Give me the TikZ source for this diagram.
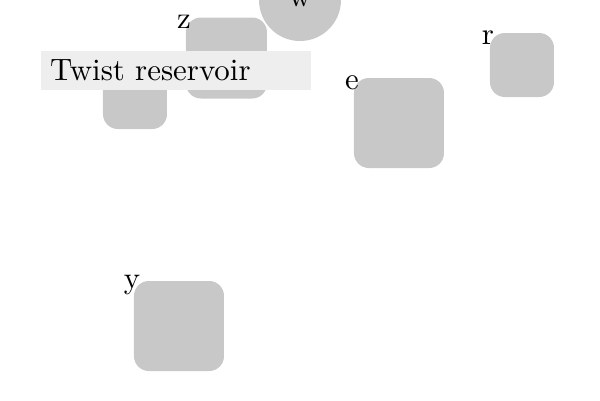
\documentclass[tikz,border=0pt]{standalone}
\newcommand\pxl{0.3367pt}
\definecolor{boxgray}{RGB}{200,200,200}
\definecolor{titlegray}{RGB}{238,238,238}
\tikzset{
  blk/.style={fill=boxgray, draw=none, rounded corners=5pt, inner sep=0pt,
              minimum width=#1*0.3367pt, minimum height=#1*0.3367pt},
  tag/.style={inner sep=0pt, anchor=center},
  ball/.style={circle, fill=boxgray, inner sep=0pt, minimum size=82*0.3367pt},
  titlebox/.style={fill=titlegray, inner xsep=3.2pt, inner ysep=3.1pt, text width=84.5pt, align=left, anchor=north west}
}
\begin{document}
\begin{tikzpicture}[x=\pxl, y=-\pxl, font=\fontsize{10.4}{12.5}\selectfont]
  \useasboundingbox (0,0) rectangle (600,400);
  % boxes
  \node[blk=64] (q) at (135,97) {};
  \node[blk=81] (z) at (226.5,58) {};
  \node[ball] (w) at (300,0) {w};
  \node[blk=90] (e) at (399,123) {};
  \node[blk=64] (r) at (522,65) {};
  \node[blk=90] (y) at (179,326) {};
  % labels
  \node[tag] (zl) at ([shift={(-1.5,5)}]z.north west) {z};
  \node[tag] (el) at ([shift={(-1.5,5)}]e.north west) {e};
  \node[tag] (rl) at ([shift={(-1.5,5)}]r.north west) {r};
  \node[tag] (yl) at ([shift={(-1.5,5)}]y.north west) {y};
  % title
  \node[titlebox] (title) at (40,50) {Twist reservoir};
\end{tikzpicture}
\end{document}
